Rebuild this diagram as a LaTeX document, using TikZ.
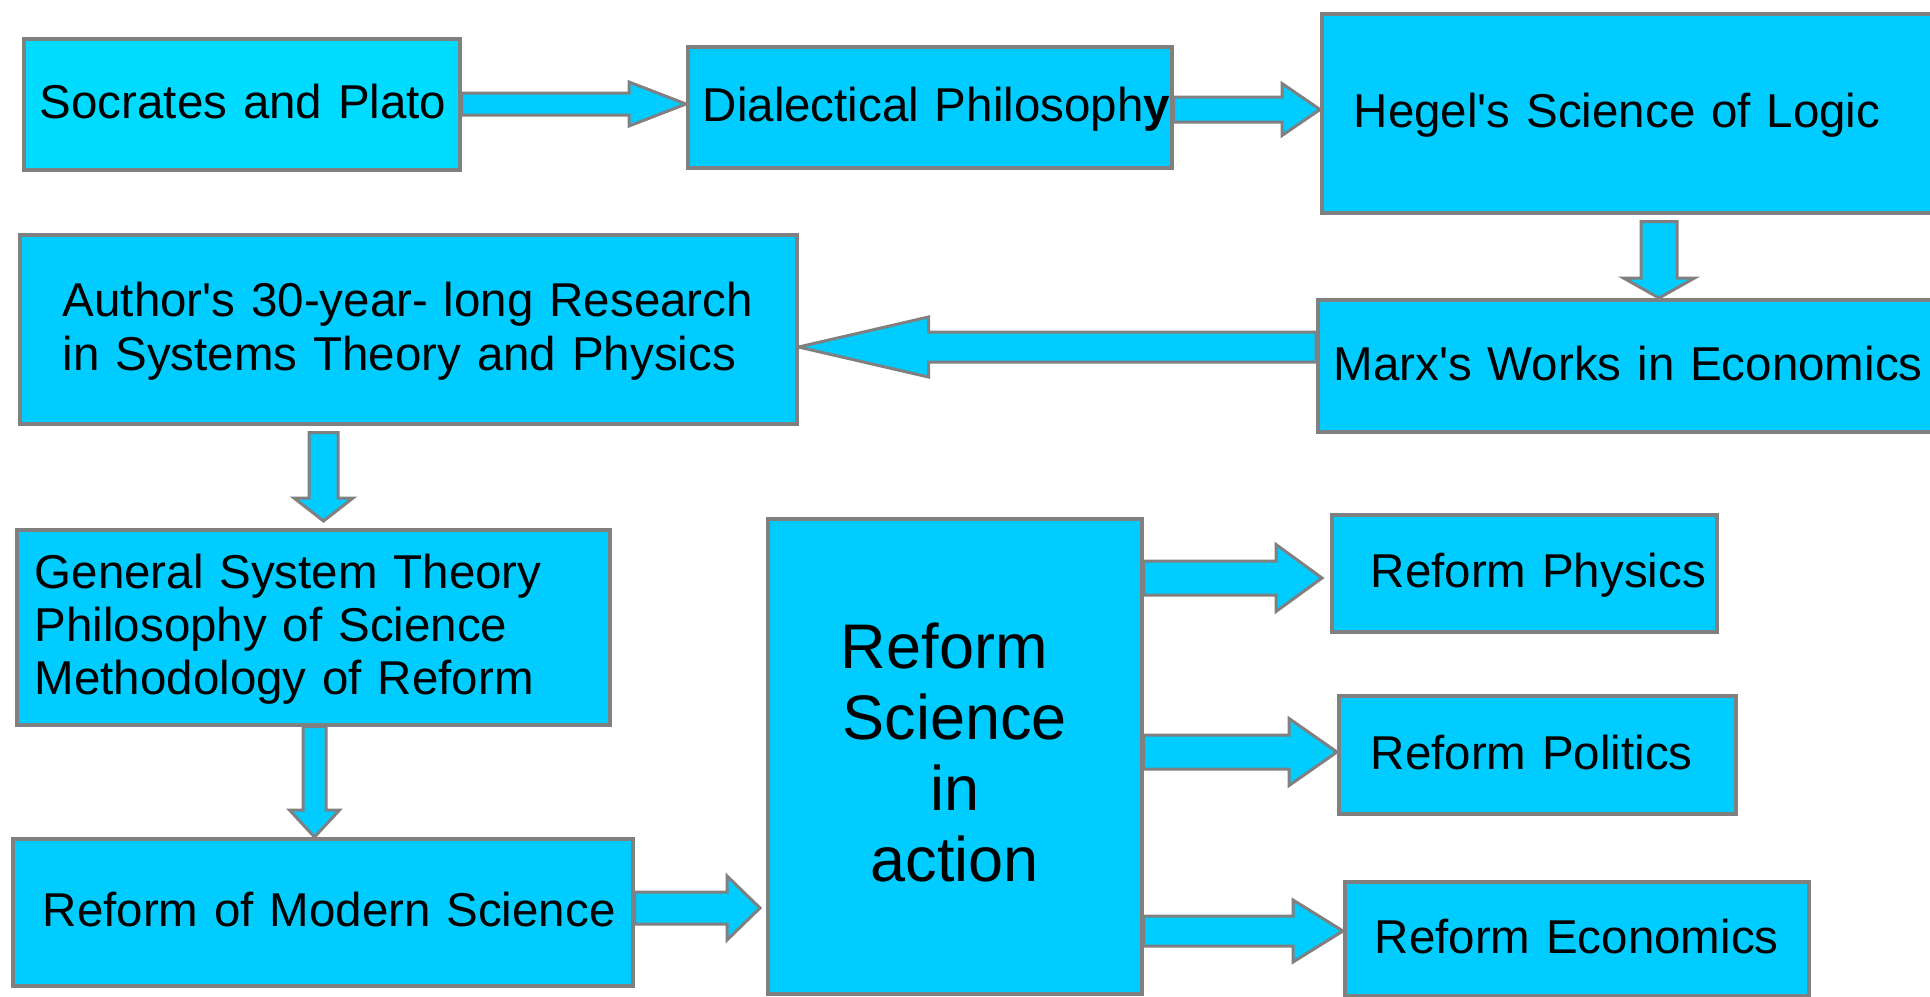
\documentclass[tikz,border=0pt]{standalone}
\usepackage{fontspec}
\setmainfont{Liberation Sans}
\usetikzlibrary{calc,backgrounds}
\definecolor{boxfill}{HTML}{00CCFF}
\definecolor{boxfillb}{HTML}{00DCFF}
\definecolor{edgegray}{HTML}{808080}
\newcommand\tline[2]{\hspace*{#1}\mbox{#2}}
\newcommand\aps{\textquotesingle}
\tikzset{
  box/.style={draw=edgegray, line width=3.5pt, fill=boxfill, rectangle, anchor=north west,
    inner sep=0pt, align=left, text height=29pt, text depth=0pt,
    font=\fontsize{47.5}{54}\selectfont},
  barrow/.style={draw=edgegray, line width=3pt, fill=boxfill, line join=miter},
}
% horizontal block arrow: from, to, y, half shaft, half head, head length (signed)
\newcommand\harrow[6]{%
  \draw[barrow] let \p1=(#1), \p2=(#2), \p3=(0,#3) in
   ({\x1},{\y3+#4}) -- ({\x2-(#6)},{\y3+#4}) -- ({\x2-(#6)},{\y3+#5}) -- ({\x2},{\y3})
   -- ({\x2-(#6)},{\y3-#5}) -- ({\x2-(#6)},{\y3-#4}) -- ({\x1},{\y3-#4}) -- cycle;}
% downward block arrow: from, to, x, half shaft, half head, head length
\newcommand\varrow[6]{%
  \draw[barrow] let \p1=(#1), \p2=(#2), \p3=(#3,0) in
   ({\x3-#4},{\y1}) -- ({\x3-#4},{\y2+#6}) -- ({\x3-#5},{\y2+#6}) -- ({\x3},{\y2})
   -- ({\x3+#5},{\y2+#6}) -- ({\x3+#4},{\y2+#6}) -- ({\x3+#4},{\y1}) -- cycle;}
\begin{document}
\begin{tikzpicture}[x=1pt,y=-1pt]
\useasboundingbox (0,0) rectangle (1930,996);
\clip (0,0) rectangle (1930,996);

\node[box, fill=boxfillb, minimum width=436pt, text width=436pt, minimum height=131pt] (soc) at (22,37)
  {\tline{16pt}{Socrates and Plato}};
\node[box, minimum width=484pt, text width=484pt, minimum height=121pt] (dia) at (686,45)
  {\tline{15pt}{Dialectical Philosoph{\bfseries y}}};
\node[box, minimum width=700pt, text width=700pt, minimum height=199pt] (heg) at (1320,12)
  {\tline{32pt}{Hegel\aps s Science of Logic}};
\node[box, minimum width=704pt, text width=704pt, minimum height=132pt] (marx) at (1316,298)
  {\tline{16pt}{Marx\aps s Works in Economics}};
\node[box, minimum width=777pt, text width=777pt, minimum height=189pt, text depth=54pt] (auth) at (18,233)
  {\tline{43pt}{Author\aps s 30-year- long Research}\\\tline{43pt}{in Systems Theory and Physics}};
\node[box, minimum width=593pt, text width=593pt, minimum height=195pt, text depth=106pt,
      font=\fontsize{47.5}{53}\selectfont] (gen) at (15,528)
  {\tline{18pt}{General System Theory}\\\tline{18pt}{Philosophy of Science}\\\tline{18pt}{Methodology of Reform}};
\node[box, minimum width=620pt, text width=620pt, minimum height=147pt] (rms) at (11,837)
  {\tline{30pt}{Reform of Modern Science}};
\node[box, minimum width=374pt, text width=374pt, minimum height=475pt, align=center,
      text height=37pt, text depth=213pt, font=\fontsize{63}{71}\selectfont] (rsa) at (766,517)
  {\mbox{Reform\ }\\Science\\in\\action};
\node[box, minimum width=385pt, text width=385pt, minimum height=117pt] (phy) at (1330,513)
  {\tline{39pt}{Reform Physics}};
\node[box, minimum width=397pt, text width=397pt, minimum height=118pt] (pol) at (1337,694)
  {\tline{32pt}{Reform Politics}};
\node[box, minimum width=464pt, text width=464pt, minimum height=114pt] (eco) at (1343,880)
  {\tline{30pt}{Reform Economics}};

\begin{pgfonlayer}{background}
\harrow{soc.east}{dia.west}{104}{11}{22}{57}
\harrow{dia.east}{heg.west}{109.5}{12.5}{26}{38}
\varrow{[yshift=-7pt]heg.south}{marx.north}{1659}{18}{35.5}{20}
\harrow{marx.west}{auth.east}{347}{15}{30}{-130}
\varrow{[yshift=-7pt]auth.south}{[yshift=7pt]gen.north}{323.5}{14.5}{29.5}{23}
\varrow{gen.south}{rms.north}{314.5}{11.5}{25}{27}
\harrow{rms.east}{[xshift=-6pt]rsa.west}{908}{16}{32}{33}
\harrow{rsa.east}{[xshift=-8pt]phy.west}{578}{17}{33.5}{46}
\harrow{rsa.east}{pol.west}{752}{17}{33.5}{48}
\harrow{rsa.east}{eco.west}{931}{15}{31}{50}
\end{pgfonlayer}
\end{tikzpicture}
\end{document}
